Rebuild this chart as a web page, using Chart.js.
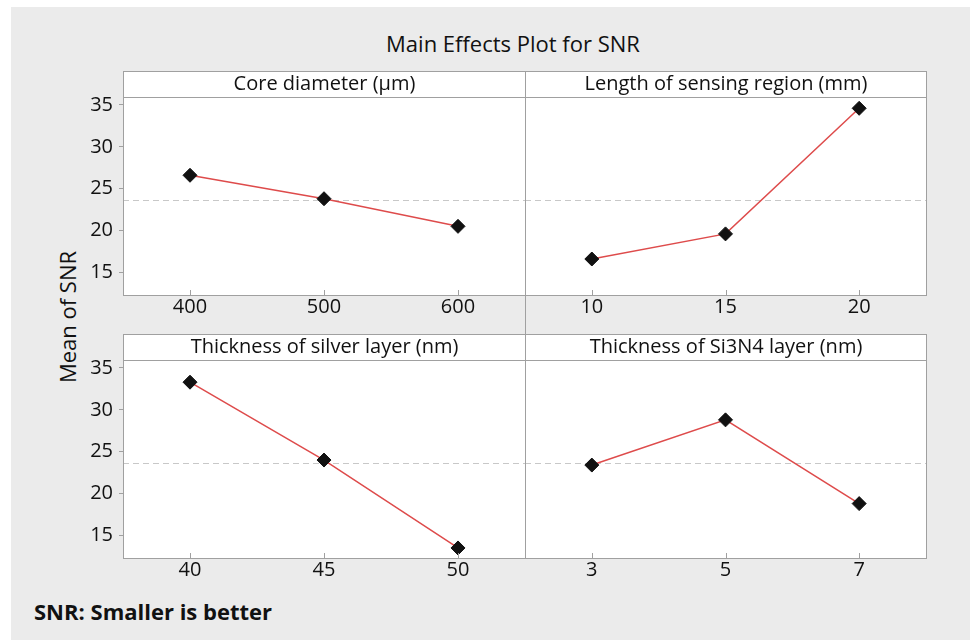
<!DOCTYPE html>
<html>
<head>
<meta charset="utf-8">
<script src="https://cdn.jsdelivr.net/npm/chart.js@4.4.0/dist/chart.umd.min.js"></script>
<style>
  body { margin: 0; background: #fff; font-family: "Open Sans", sans-serif; color: #111; }
  #page { position: relative; width: 970px; height: 644px; overflow: hidden; }
  #bg { position: absolute; left: 11px; top: 7px; width: 959px; height: 633px; background: #ebebeb; }
  .txt { position: absolute; white-space: nowrap; }
  #title { left: 0; width: 1026px; top: 28px; text-align: center; font-size: 22px; }
  #ytitle { left: 67px; top: 317px; font-size: 22px; transform: translate(-50%, -50%) rotate(-90deg); }
  #note { left: 34px; top: 596px; font-size: 22px; font-weight: bold; }
  .strip { position: absolute; height: 27px; background: #fff; box-sizing: border-box;
           border: 1px solid #a0a0a0; text-align: center; font-size: 20px; line-height: 22px; }
  .vline { position: absolute; left: 525px; width: 1px; background: #a0a0a0; }
  canvas { position: absolute; }
</style>
</head>
<body>
<div id="page">
  <div id="bg"></div>
  <div class="txt" id="title">Main Effects Plot for SNR</div>
  <div class="txt" id="ytitle">Mean of SNR</div>
  <div class="txt" id="note">SNR: Smaller is better</div>
  <div class="vline" style="top:295px;height:39px"></div>
</div>
<script>
// factor levels and mean SNR
const coreLevels = ["400", "500", "600"];
const coreSNR = [26.6, 23.8, 20.5];
const lengthLevels = ["10", "15", "20"];
const lengthSNR = [16.6, 19.6, 34.6];
const silverLevels = ["40", "45", "50"];
const silverSNR = [33.3, 24.0, 13.5];
const si3n4Levels = ["3", "5", "7"];
const si3n4SNR = [23.4, 28.8, 18.8];

const yTicks = [15, 20, 25, 30, 35];
const yMin = 12.3;
const yMax = 35.95;

const allValues = [...coreSNR, ...lengthSNR, ...silverSNR, ...si3n4SNR];
const grandMean = allValues.reduce((a, b) => a + b, 0) / allValues.length;

const fontFamily = '"Open Sans", sans-serif';
const page = document.getElementById("page");

const panelPlugin = {
  id: "panel",
  beforeDraw(chart) {
    const { ctx, chartArea: a } = chart;
    ctx.save();
    ctx.fillStyle = "#fff";
    ctx.fillRect(a.left, a.top, a.right - a.left, a.bottom - a.top);
    ctx.restore();
  },
  beforeDatasetsDraw(chart) {
    const { ctx, chartArea: a, scales } = chart;
    const y = Math.round(scales.y.getPixelForValue(grandMean)) + 0.5;
    ctx.save();
    ctx.strokeStyle = "#c8c8c8";
    ctx.lineWidth = 1.2;
    ctx.setLineDash([6, 4]);
    ctx.beginPath();
    ctx.moveTo(a.left, y);
    ctx.lineTo(a.right, y);
    ctx.stroke();
    ctx.restore();
  },
  afterDraw(chart) {
    const { ctx, chartArea: a, scales } = chart;
    ctx.save();
    ctx.strokeStyle = "#a0a0a0";
    ctx.lineWidth = 1;
    ctx.strokeRect(a.left + 0.5, a.top + 0.5, a.right - a.left, a.bottom - a.top);
    // inward tick marks on x axis
    ctx.beginPath();
    scales.x.ticks.forEach((t, i) => {
      const x = Math.round(scales.x.getPixelForTick(i)) + 0.5;
      ctx.moveTo(x, a.bottom);
      ctx.lineTo(x, a.bottom - 5);
    });
    ctx.stroke();
    ctx.restore();
  }
};

const panels = [
  { title: "Core diameter (µm)", labels: coreLevels, values: coreSNR, left: 73, top: 71, showY: true },
  { title: "Length of sensing region (mm)", labels: lengthLevels, values: lengthSNR, left: 522, top: 71, showY: false },
  { title: "Thickness of silver layer (nm)", labels: silverLevels, values: silverSNR, left: 73, top: 334, showY: true },
  { title: "Thickness of Si3N4 layer (nm)", labels: si3n4Levels, values: si3n4SNR, left: 522, top: 334, showY: false }
];

panels.forEach((p) => {
  const canvas = document.createElement("canvas");
  canvas.width = p.showY ? 455 : 407;
  canvas.height = 260;
  canvas.style.left = p.left + "px";
  canvas.style.top = p.top + "px";
  page.appendChild(canvas);

  const strip = document.createElement("div");
  strip.className = "strip";
  strip.textContent = p.title;
  strip.style.left = (p.showY ? 123 : 525) + "px";
  strip.style.top = p.top + "px";
  strip.style.width = (p.showY ? 403 : 402) + "px";
  page.appendChild(strip);

  new Chart(canvas, {
    type: "line",
    data: {
      labels: p.labels,
      datasets: [{
        data: p.values,
        borderColor: "#de4b4b",
        borderWidth: 1.5,
        pointStyle: "rectRot",
        pointRadius: 7,
        pointBackgroundColor: "#111",
        pointBorderColor: "#111",
        pointBorderWidth: 1,
        tension: 0
      }]
    },
    options: {
      responsive: false,
      animation: false,
      layout: { autoPadding: false, padding: { top: 26, right: 3, bottom: 0, left: p.showY ? 0 : 3 } },
      plugins: { legend: { display: false }, tooltip: { enabled: false } },
      scales: {
        x: {
          type: "category",
          offset: true,
          grid: { display: false, drawTicks: false },
          border: { display: false },
          ticks: { color: "#111", font: { family: fontFamily, size: 20 }, padding: 0, maxRotation: 0 },
          afterFit: (s) => { s.height = 36; s.paddingLeft = 0; s.paddingRight = 0; }
        },
        y: {
          display: p.showY,
          min: yMin,
          max: yMax,
          grid: { drawOnChartArea: false, tickLength: 4, color: "#a0a0a0" },
          border: { display: false },
          ticks: { color: "#111", font: { family: fontFamily, size: 20 }, padding: 6 },
          afterBuildTicks: (s) => { s.ticks = yTicks.map((v) => ({ value: v })); },
          afterFit: (s) => { if (p.showY) s.width = 50; }
        }
      }
    },
    plugins: [panelPlugin]
  });
});
</script>
</body>
</html>
